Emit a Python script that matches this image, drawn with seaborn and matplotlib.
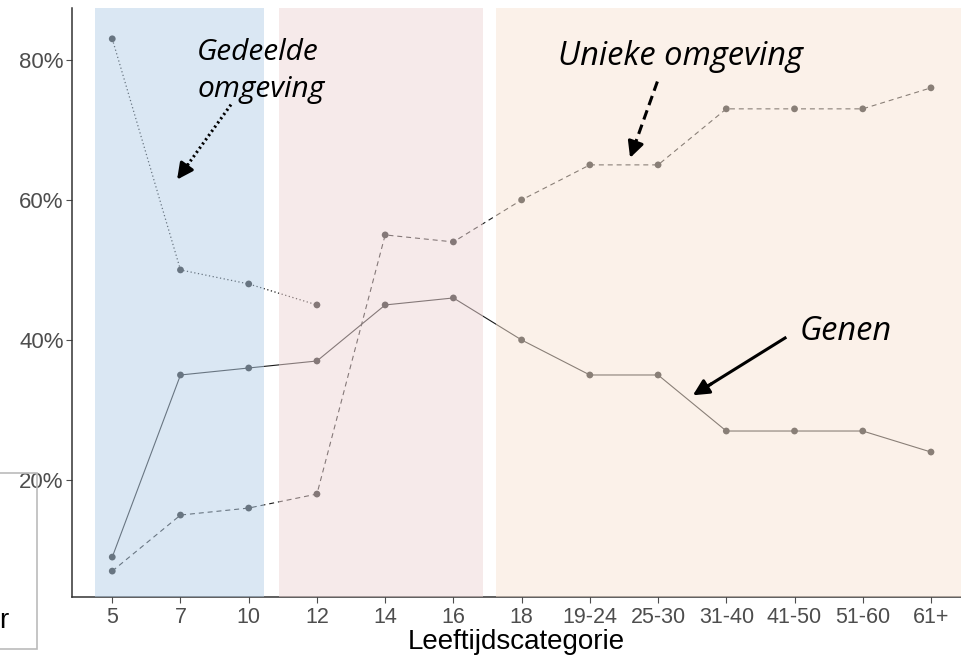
import numpy as np
import pandas as pd
import matplotlib
matplotlib.use("Agg")
import matplotlib.pyplot as plt
import seaborn as sns
from matplotlib.patches import Rectangle

categories = ["5", "7", "10", "12", "14", "16", "18", "19-24", "25-30",
              "31-40", "41-50", "51-60", "61+"]
genen = [9, 35, 36, 37, 45, 46, 40, 35, 35, 27, 27, 27, 24]
unieke = [7, 15, 16, 18, 55, 54, 60, 65, 65, 73, 73, 73, 76]
gedeelde = [83, 50, 48, 45]
y_ticks = [20, 40, 60, 80]

sns.set_theme(style="ticks")
plt.rcParams["font.family"] = ["Liberation Sans", "DejaVu Sans"]

fig = plt.figure(figsize=(9.61, 6.55), dpi=100)
ax = fig.add_axes([72 / 961, 58 / 655, 1 - 72 / 961, 1 - 66 / 655])

pos = {c: i for i, c in enumerate(categories)}
series = [("Genen", genen, "-"), ("Unieke", unieke, (0, (4.5, 3.5))),
          ("Gedeelde", gedeelde, (0, (1, 2)))]
for name, vals, ls in series:
    df = pd.DataFrame({"x": [pos[c] for c in categories[:len(vals)]], "y": vals})
    lw = 0.8 if name != "Gedeelde" else 0.9
    sns.lineplot(data=df, x="x", y="y", ax=ax, color="#1a1a1a", linewidth=lw,
                 linestyle=ls, zorder=2)
    sns.scatterplot(data=df, x="x", y="y", ax=ax, color="#1a1a1a", s=24,
                    edgecolor="none", zorder=3)

# shaded age bands drawn over the lines
ax.axvspan(-0.26, 2.23, color="#b7d1e9", alpha=0.5, lw=0, zorder=4)
ax.axvspan(2.45, 5.44, color="#efd7d7", alpha=0.5, lw=0, zorder=4)
ax.axvspan(5.63, 13, color="#f9e5d5", alpha=0.5, lw=0, zorder=4)

ax.set_xlim(-0.59, 12.44)
ax.set_ylim(3.3, 87.4)
ax.set_xticks(range(len(categories)))
ax.set_xticklabels(categories)
ax.set_yticks(y_ticks)
ax.set_yticklabels([f"{v}%" for v in y_ticks])
ax.tick_params(axis="x", labelsize=15.5, colors="#4d4d4d", length=4, width=0.8, pad=3)
ax.tick_params(axis="y", labelsize=16, colors="#4d4d4d", length=4, width=0.8, pad=2)
ax.set_xlabel("Leeftijdscategorie", fontsize=20, color="black", labelpad=1)
ax.set_ylabel("")
for s in ["top", "right"]:
    ax.spines[s].set_visible(False)
for s in ["left", "bottom"]:
    ax.spines[s].set_color("#333333")
    ax.spines[s].set_linewidth(1.1)

afont = dict(family=["Open Sans", "DejaVu Sans"], style="italic",
             color="black", zorder=6)
ax.text(1.245, 80.0, "Gedeelde", ha="left", va="baseline", fontsize=21.5, **afont)
ax.text(1.245, 74.7, "omgeving", ha="left", va="baseline", fontsize=21.5, **afont)
ax.text(6.535, 79.3, "Unieke omgeving", ha="left", va="baseline", fontsize=23.5, **afont)
ax.text(10.08, 40.0, "Genen", ha="left", va="baseline", fontsize=23.5, **afont)


def arrow(x0, y0, x1, y1, ls, lw):
    # shaft as a plain line, head as a short annotate arrow at the tip
    hx = x0 + (x1 - x0) * 0.8
    hy = y0 + (y1 - y0) * 0.8
    ax.plot([x0, hx + (x1 - x0) * 0.05], [y0, hy + (y1 - y0) * 0.05],
            color="black", lw=lw, linestyle=ls, dash_capstyle="butt",
            solid_capstyle="butt", zorder=6)
    ax.annotate("", xy=(x1, y1), xytext=(hx, hy),
                arrowprops=dict(arrowstyle="-|>", lw=lw, color="black",
                                mutation_scale=24, shrinkA=0, shrinkB=0),
                zorder=6)


arrow(1.74, 73.6, 0.95, 62.9, (0, (0.7, 1.0)), 2.2)
arrow(7.99, 76.9, 7.59, 66.0, (0, (3.2, 1.8)), 2.2)
arrow(9.88, 40.4, 8.51, 32.1, "-", 2.2)

# clipped legend box at the left edge
fig.patches.append(Rectangle((-0.01, 6 / 655), 46.5 / 961, 176 / 655,
                             transform=fig.transFigure, fill=False,
                             edgecolor="#bbbbbb", linewidth=1.2))
fig.text(-0.001, 27 / 655, "r", fontsize=20, color="black", ha="left", va="baseline")

fig.savefig("out.png", dpi=100)
